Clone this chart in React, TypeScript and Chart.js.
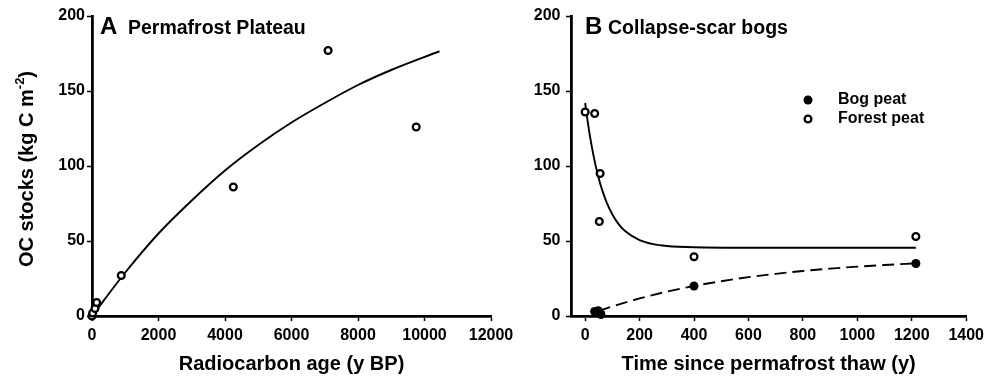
import React, { useEffect, useRef } from "react";
import { Chart, registerables } from "chart.js";

Chart.register(...registerables);

const FONT = "'Liberation Sans', Arial, Helvetica, sans-serif";

// Panel A: Permafrost Plateau
const plateauAgeX = [0, 20, 90, 140, 880, 4250, 7100, 9750];
const plateauStockY = [0, 2, 5, 9, 27, 86, 177, 126];
const plateauFitX = [0, 1000, 2000, 3000, 4000, 5000, 6000, 7000, 8000, 9000, 10450];
const plateauFitY = [0, 29, 55, 77, 97, 114, 129, 142, 154, 164, 176.5];
const xTicksA = [0, 2000, 4000, 6000, 8000, 10000, 12000];
const yTicks = [0, 50, 100, 150, 200];

// Panel B: Collapse-scar bogs
const bogPeatX = [35, 48, 55, 58, 400, 1215];
const bogPeatY = [3, 3.5, 2, 1, 20, 35];
const forestPeatX = [0, 35, 55, 52, 400, 1215];
const forestPeatY = [136, 135, 95, 63, 39.5, 53];
const forestFitX = [0, 10, 20, 30, 40, 50, 60, 80, 100, 125, 150, 200, 250, 300, 400, 600, 800, 1000, 1215];
const forestFitY = [142, 128.8, 117.4, 107.6, 99.1, 91.7, 85.4, 75.2, 67.7, 60.8, 56.1, 50.6, 47.9, 46.7, 45.8, 45.5, 45.5, 45.5, 45.5];
const bogFitX = [50, 100, 200, 300, 400, 500, 600, 700, 800, 900, 1000, 1100, 1215];
const bogFitY = [3.3, 6.4, 11.7, 16.2, 20.0, 23.2, 25.9, 28.1, 30.0, 31.6, 32.9, 34.0, 35.1];
const xTicksB = [0, 200, 400, 600, 800, 1000, 1200, 1400];

const legendLabels = ["Bog peat", "Forest peat"];

const pts = (xs: number[], ys: number[]) => xs.map((x, i) => ({ x, y: ys[i] }));

function makeScales(opts: {
  xMin: number; xMax: number; xTicks: number[]; xTitle: string;
  yAxisWidth: number; yPad: number;
}) {
  return {
    x: {
      type: "linear",
      min: opts.xMin,
      max: opts.xMax,
      afterBuildTicks: (axis: any) => {
        axis.ticks = opts.xTicks.map((v) => ({ value: v }));
      },
      afterFit: (axis: any) => {
        axis.height = 61;
      },
      ticks: {
        font: { family: FONT, size: 16, weight: "bold" },
        color: "#000",
        padding: 5,
        maxRotation: 0,
        autoSkip: false,
        callback: (v: any) => String(v),
      },
      grid: {
        display: true,
        drawOnChartArea: false,
        drawTicks: true,
        tickLength: 5,
        tickWidth: 1.5,
        tickColor: "#000",
      },
      border: { display: true, color: "#000", width: 2.8 },
      title: {
        display: true,
        text: opts.xTitle,
        color: "#000",
        font: { family: FONT, size: 20, weight: "bold" },
        padding: { top: 0, bottom: 1 },
      },
    },
    y: {
      type: "linear",
      min: 0,
      max: 200,
      afterBuildTicks: (axis: any) => {
        axis.ticks = yTicks.map((v) => ({ value: v }));
      },
      afterFit: (axis: any) => {
        axis.width = opts.yAxisWidth;
      },
      ticks: {
        font: { family: FONT, size: 16, weight: "bold" },
        color: "#000",
        padding: opts.yPad,
        autoSkip: false,
        callback: (v: any) => String(v),
      },
      grid: {
        display: true,
        drawOnChartArea: false,
        drawTicks: true,
        tickLength: 5,
        tickWidth: 1.5,
        tickColor: "#000",
      },
      border: { display: true, color: "#000", width: 2.8 },
    },
  };
}

const openPts = {
  showLine: false,
  pointRadius: 3.4,
  pointBackgroundColor: "#fff",
  pointBorderColor: "#000",
  pointBorderWidth: 2.3,
  clip: false,
};
const filledPts = {
  showLine: false,
  pointRadius: 4.5,
  pointBackgroundColor: "#000",
  pointBorderColor: "#000",
  pointBorderWidth: 0,
  clip: false,
};
const fitLine = {
  showLine: true,
  pointRadius: 0,
  borderColor: "#000",
  borderWidth: 1.9,
  cubicInterpolationMode: "monotone",
  fill: false,
  clip: false,
};

export default function App() {
  const refA = useRef<HTMLCanvasElement | null>(null);
  const refB = useRef<HTMLCanvasElement | null>(null);

  useEffect(() => {
    const plugA = {
      id: "annotA",
      afterDraw(chart: any) {
        const ctx = chart.ctx as CanvasRenderingContext2D;
        ctx.save();
        ctx.fillStyle = "#000";
        ctx.textBaseline = "alphabetic";
        ctx.textAlign = "left";
        ctx.font = `bold 24px ${FONT}`;
        ctx.fillText("A", 100, 34);
        ctx.font = `bold 19.5px ${FONT}`;
        ctx.fillText("Permafrost Plateau", 128, 34);
        // y title with superscript
        const big = `bold 20px ${FONT}`;
        const small = `bold 13px ${FONT}`;
        const main = "OC stocks (kg C m";
        const sup = "-2";
        const tail = ")";
        ctx.font = big;
        const w1 = ctx.measureText(main).width;
        const w3 = ctx.measureText(tail).width;
        ctx.font = small;
        const w2 = ctx.measureText(sup).width;
        const total = w1 + w2 + w3;
        ctx.translate(27, 169);
        ctx.rotate(-Math.PI / 2);
        ctx.textBaseline = "middle";
        let x = -total / 2;
        ctx.font = big;
        ctx.fillText(main, x, 0);
        x += w1;
        ctx.font = small;
        ctx.fillText(sup, x, -7);
        x += w2;
        ctx.font = big;
        ctx.fillText(tail, x, 0);
        ctx.restore();
      },
    };

    const plugB = {
      id: "annotB",
      afterDraw(chart: any) {
        const ctx = chart.ctx as CanvasRenderingContext2D;
        ctx.save();
        ctx.fillStyle = "#000";
        ctx.textBaseline = "alphabetic";
        ctx.textAlign = "left";
        ctx.font = `bold 24px ${FONT}`;
        ctx.fillText("B", 91, 34);
        ctx.font = `bold 19.5px ${FONT}`;
        ctx.fillText("Collapse-scar bogs", 114, 34);
        // legend
        const mx = 314;
        const rows = [100, 119];
        ctx.beginPath();
        ctx.arc(mx, rows[0], 4.5, 0, Math.PI * 2);
        ctx.fill();
        ctx.beginPath();
        ctx.arc(mx, rows[1], 3.4, 0, Math.PI * 2);
        ctx.fillStyle = "#fff";
        ctx.fill();
        ctx.lineWidth = 2.3;
        ctx.strokeStyle = "#000";
        ctx.stroke();
        ctx.fillStyle = "#000";
        ctx.font = `bold 16px ${FONT}`;
        ctx.textBaseline = "middle";
        ctx.fillText(legendLabels[0], 344, rows[0]);
        ctx.fillText(legendLabels[1], 344, rows[1]);
        ctx.restore();
      },
    };

    const chartA = new Chart(refA.current as HTMLCanvasElement, {
      type: "scatter",
      data: {
        datasets: [
          { ...openPts, data: pts(plateauAgeX, plateauStockY) } as any,
          { ...fitLine, data: pts(plateauFitX, plateauFitY) } as any,
        ],
      },
      options: {
        responsive: false,
        animation: false,
        devicePixelRatio: 1,
        layout: { padding: { left: 0, right: 29, top: 16, bottom: 0 } },
        plugins: { legend: { display: false }, tooltip: { enabled: false }, title: { display: false } },
        scales: makeScales({
          xMin: 0, xMax: 12000, xTicks: xTicksA, xTitle: "Radiocarbon age (y BP)",
          yAxisWidth: 92, yPad: 2,
        }) as any,
      },
      plugins: [plugA],
    });

    const chartB = new Chart(refB.current as HTMLCanvasElement, {
      type: "scatter",
      data: {
        datasets: [
          { ...filledPts, data: pts(bogPeatX, bogPeatY) } as any,
          { ...openPts, data: pts(forestPeatX, forestPeatY) } as any,
          { ...fitLine, data: pts(forestFitX, forestFitY) } as any,
          { ...fitLine, borderDash: [12, 6], data: pts(bogFitX, bogFitY) } as any,
        ],
      },
      options: {
        responsive: false,
        animation: false,
        devicePixelRatio: 1,
        layout: { padding: { left: 0, right: 19, top: 16, bottom: 0 } },
        plugins: { legend: { display: false }, tooltip: { enabled: false }, title: { display: false } },
        scales: makeScales({
          xMin: -52, xMax: 1400, xTicks: xTicksB, xTitle: "Time since permafrost thaw (y)",
          yAxisWidth: 77, yPad: 5.5,
        }) as any,
      },
      plugins: [plugB],
    });

    return () => {
      chartA.destroy();
      chartB.destroy();
    };
  }, []);

  return (
    <div style={{ position: "absolute", left: 0, top: 0, width: 989, height: 377, background: "#fff" }}>
      <canvas
        ref={refA}
        width={520}
        height={377}
        style={{ position: "absolute", left: 0, top: 0, width: 520, height: 377 }}
      />
      <canvas
        ref={refB}
        width={495}
        height={377}
        style={{ position: "absolute", left: 494, top: 0, width: 495, height: 377 }}
      />
    </div>
  );
}
